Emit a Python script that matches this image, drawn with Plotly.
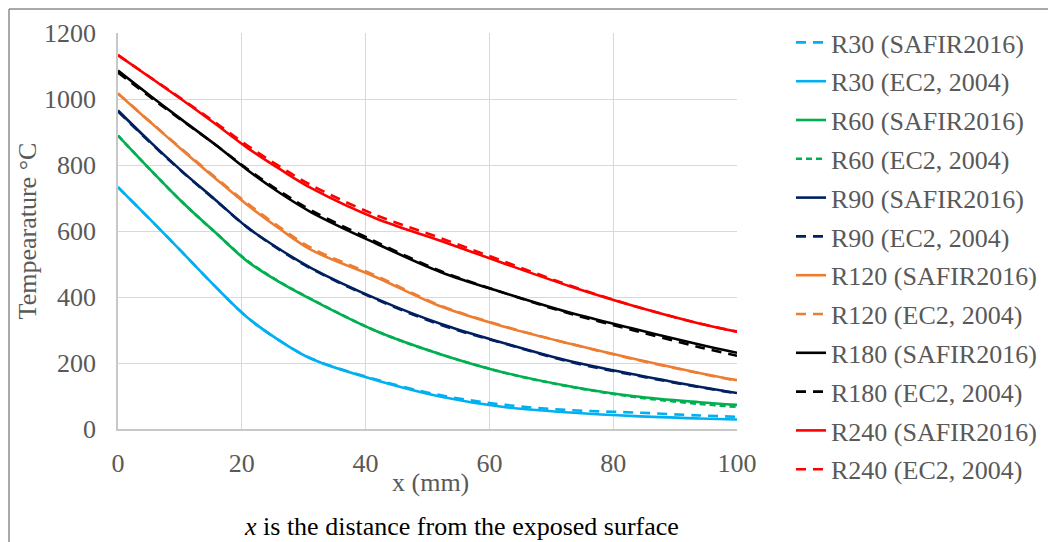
import plotly.graph_objects as go

# distance from exposed surface (mm) at the positions where values were read
x_mm = [0, 5.2, 10.4, 15.7, 20.9, 26.1, 31.3, 41.7, 52.2, 62.6, 73.1, 83.5, 93.9, 100]

r30_safir = [733, 635, 535, 432, 338, 268, 213, 150, 102, 73, 57, 50, 41, 37]
r30_ec2 = [733, 635, 535, 432, 338, 268, 212, 148, 98, 66, 50, 39, 32, 29]
r60_safir = [889, 786, 687, 596, 508, 445, 392, 297, 226, 170, 129, 99, 81, 73]
r60_ec2 = [889, 786, 687, 596, 510, 446, 393, 297, 226, 170, 128, 97, 76, 67]
r90_safir = [965, 870, 780, 695, 611, 545, 487, 395, 318, 259, 205, 165, 128, 109]
r90_ec2 = [962, 868, 779, 694, 611, 543, 485, 393, 315, 258, 203, 163, 127, 108]
r120_safir = [1017, 930, 845, 760, 679, 607, 542, 460, 371, 309, 258, 212, 170, 148]
r120_ec2 = [1017, 931, 847, 763, 684, 612, 548, 464, 373, 310, 258, 211, 169, 146]
r180_safir = [1086, 1010, 936, 862, 785, 716, 656, 562, 475, 411, 352, 303, 256, 231]
r180_ec2 = [1080, 1006, 934, 862, 788, 721, 662, 567, 478, 411, 349, 298, 248, 222]
r240_safir = [1133, 1065, 997, 925, 852, 788, 729, 638, 570, 500, 432, 372, 320, 295]
r240_ec2 = [1133, 1066, 999, 929, 859, 796, 738, 648, 578, 506, 434, 372, 320, 295]

DASH = "10px,7px"
DOT = "6px,4px"
series = [
    ("R30 (SAFIR2016)", r30_safir, "#00B0F0", DASH),
    ("R30 (EC2, 2004)", r30_ec2, "#00B0F0", "solid"),
    ("R60 (SAFIR2016)", r60_safir, "#00B050", "solid"),
    ("R60 (EC2, 2004)", r60_ec2, "#00B050", DOT),
    ("R90 (SAFIR2016)", r90_safir, "#002060", "solid"),
    ("R90 (EC2, 2004)", r90_ec2, "#002060", DASH),
    ("R120 (SAFIR2016)", r120_safir, "#ED7D31", "solid"),
    ("R120 (EC2, 2004)", r120_ec2, "#ED7D31", DASH),
    ("R180 (SAFIR2016)", r180_safir, "#000000", "solid"),
    ("R180 (EC2, 2004)", r180_ec2, "#000000", DASH),
    ("R240 (SAFIR2016)", r240_safir, "#FF0000", "solid"),
    ("R240 (EC2, 2004)", r240_ec2, "#FF0000", DASH),
]

fig = go.Figure()
for i, (name, vals, color, dash) in enumerate(series):
    fig.add_trace(go.Scatter(
        x=x_mm, y=vals, name=name, mode="lines", line_shape="spline",
        legendgroup=f"g{i}",
        line=dict(color=color, width=2.6, dash=dash),
    ))

FONT = "Liberation Serif, Times New Roman, serif"
FS = 26
OFF = 8  # page body margin
W, H = 1056 - OFF, 542 - OFF
L, T = 118 - OFF, 33 - OFF
RIGHT, BOTTOM = 737 - OFF, 429 - OFF
R, B = W - RIGHT, H - BOTTOM
pw, ph = RIGHT - L, BOTTOM - T

def px(xs):
    return (xs - OFF - L) / pw

def py(ys):
    return (BOTTOM - (ys - OFF)) / ph

fig.update_layout(
    width=W, height=H,
    margin=dict(l=L, r=R, t=T, b=B, autoexpand=False),
    paper_bgcolor="white", plot_bgcolor="white",
    font=dict(family=FONT, size=FS, color="#595959"),
    showlegend=True,
    legend=dict(
        xref="container", yref="container",
        x=(791 - OFF) / W, y=1 - 11 / H, xanchor="left", yanchor="top",
        font=dict(family=FONT, size=FS, color="#595959"),
        tracegroupgap=2, bgcolor="rgba(0,0,0,0)", maxheight=H - 5,
    ),
    xaxis=dict(
        range=[0, 100], tickvals=[0, 20, 40, 60, 80, 100],
        showgrid=True, gridcolor="#D9D9D9", gridwidth=1,
        showline=True, linecolor="#C8C8C8", linewidth=1.5,
        zeroline=False, ticks="", ticklabelstandoff=10, automargin=False,
    ),
    yaxis=dict(
        range=[0, 1200], tickvals=[0, 200, 400, 600, 800, 1000, 1200],
        showgrid=True, gridcolor="#D9D9D9", gridwidth=1,
        showline=True, linecolor="#C8C8C8", linewidth=1.5,
        zeroline=False, ticks="", ticklabelstandoff=15, automargin=False,
        title=dict(text="Tempearature °C", standoff=0, font=dict(size=FS, color="#595959")),
    ),
    annotations=[
        dict(
            text="x (mm)",
            xref="paper", yref="paper", x=px(430), y=py(482),
            xanchor="center", yanchor="middle", showarrow=False,
            font=dict(family=FONT, size=FS, color="#595959"),
        ),
        dict(
            text="<i>x</i> is the distance from the exposed surface",
            xref="paper", yref="paper", x=px(461), y=py(526),
            xanchor="center", yanchor="middle", showarrow=False,
            font=dict(family=FONT, size=FS, color="#000000"),
        ),
    ],
    shapes=[
        dict(type="line", xref="paper", yref="paper", x0=px(9), x1=px(9), y0=py(9), y1=py(560),
             line=dict(color="#8C8C8C", width=1.5)),
        dict(type="line", xref="paper", yref="paper", x0=px(9), x1=px(1070), y0=py(9), y1=py(9),
             line=dict(color="#8C8C8C", width=1.5)),
    ],
)

fig.write_html("out.html")
